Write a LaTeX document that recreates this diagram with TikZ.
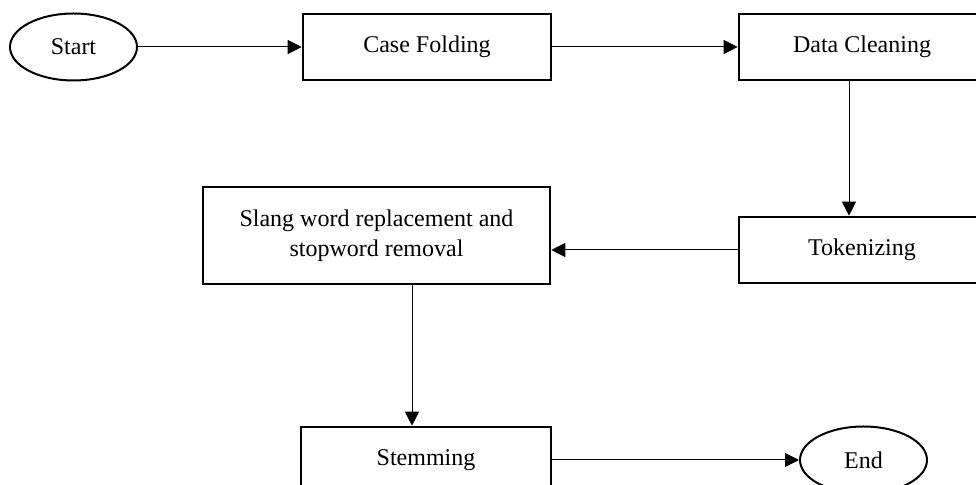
\documentclass[tikz,border=0pt]{standalone}
\usepackage{fontspec}
\setmainfont{Liberation Serif}
\usetikzlibrary{shapes}
\usetikzlibrary{arrows.meta}
\tikzset{
    termnode/.style = {ellipse, line width=1pt, draw=black, minimum width=63.5pt, minimum height=33.5pt, inner sep=0pt, font=\fontsize{12}{15}\selectfont, text=black},
    procnode/.style = {rectangle, line width=1.3pt, draw=black, minimum width=124pt, minimum height=33pt, align=center, font=\fontsize{12}{15}\selectfont, text=black},
    edgen/.style = {-{Triangle[length=7pt,width=7pt]}, line width=0.5pt, black},
}

\begin{document}
\begin{tikzpicture}[x=0.5pt,y=-0.5pt]
\useasboundingbox (0,0) rectangle (976,485);
%
\node[termnode] at (73.5,47) (start) {Start};
\node[procnode] at (427,47) (casefold) {Case Folding};
\node[procnode, minimum width=123pt] at (862,47) (clean) {Data Cleaning};
\node[procnode, minimum width=123pt] at (862,250) (token) {Tokenizing};
\node[procnode, minimum width=173.5pt, minimum height=48.5pt] at (376.5,235.5) (slang) {Slang word replacement and\\stopword removal};
\node[procnode, minimum width=125pt] at (426,460) (stem) {Stemming};
\node[termnode] at (863.5,460) (end) {End};
%
\draw[edgen] (start) -- (casefold);
\draw[edgen] (casefold) -- (clean);
\draw[edgen] ([xshift=-6.5pt]clean.south) -- ([xshift=-6.5pt]token.north);
\draw[edgen] (token.west) -- (token.west -| slang.east);
\draw[edgen] ([xshift=17.75pt]slang.south) -- ([xshift=17.75pt]slang.south |- stem.north);
\draw[edgen] (stem) -- (end);
\end{tikzpicture}
\end{document}
